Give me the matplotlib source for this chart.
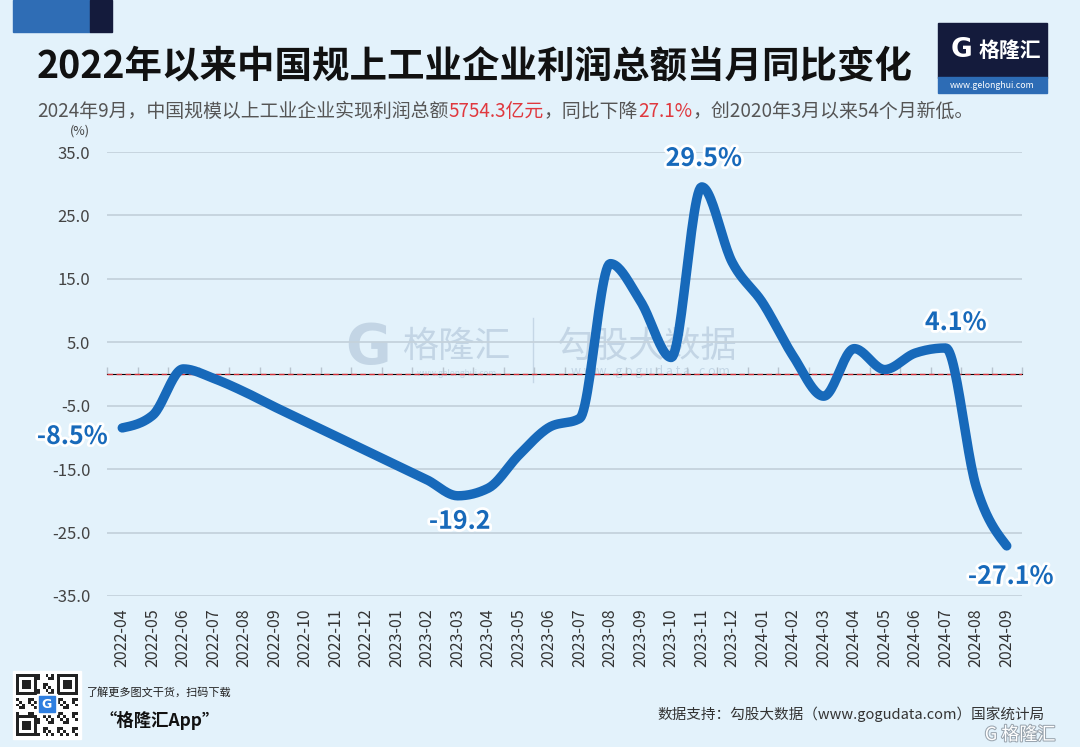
#-*-coding:utf-8-*-
import matplotlib
matplotlib.use('Agg')
import matplotlib.pyplot as plt
import matplotlib.patheffects as pe
from matplotlib.patches import Rectangle
import numpy as np

plt.rcParams['font.family'] = ['Noto Sans CJK SC', 'DejaVu Sans']
plt.rcParams['axes.unicode_minus'] = False

# 数据
months = ['2022-04', '2022-05', '2022-06', '2022-07', '2022-08', '2022-09',
          '2022-10', '2022-11', '2022-12', '2023-01', '2023-02', '2023-03',
          '2023-04', '2023-05', '2023-06', '2023-07', '2023-08', '2023-09',
          '2023-10', '2023-11', '2023-12', '2024-01', '2024-02', '2024-03',
          '2024-04', '2024-05', '2024-06', '2024-07', '2024-08', '2024-09']
profit_yoy = [-8.5, -6.5, 0.8, -0.7, -2.8, -5.2,
              -7.5, -9.8, -12.1, -14.4, -16.7, -19.2,
              -18.0, -12.8, -8.4, -7.0, 17.4, 11.4,
              2.6, 29.5, 17.6, 11.2, 2.8, -3.5,
              4.0, 0.7, 3.3, 4.1, -17.8, -27.1]
yticks = [35, 25, 15, 5, -5, -15, -25, -35]
# (月份序号, 标签)
callouts = [(0, '-8.5%'), (11, '-19.2'), (19, '29.5%'), (27, '4.1%'), (29, '-27.1%')]

BG = '#E3F2FB'
BLUE = '#1769BA'
NAVY = '#141B3C'
RED = '#E0383E'
W, H = 1080, 747


def monotone(y, k=24):
    """单调三次插值 (类似 d3 curveMonotoneX), 只用于把折线画平滑"""
    y = np.asarray(y, float)
    n = len(y)
    s = np.diff(y)
    m = np.zeros(n)
    for i in range(1, n - 1):
        s0, s1 = s[i - 1], s[i]
        p = (s0 + s1) / 2
        m[i] = (np.sign(s0) + np.sign(s1)) * min(abs(s0), abs(s1), 0.5 * abs(p))
    m[0] = (3 * s[0] - m[1]) / 2
    m[-1] = (3 * s[-1] - m[-2]) / 2
    xs, ys = [], []
    t = np.linspace(0, 1, k, endpoint=False)
    h00 = 2 * t**3 - 3 * t**2 + 1
    h10 = t**3 - 2 * t**2 + t
    h01 = -2 * t**3 + 3 * t**2
    h11 = t**3 - t**2
    for i in range(n - 1):
        xs.append(i + t)
        ys.append(h00 * y[i] + h10 * m[i] + h01 * y[i + 1] + h11 * m[i + 1])
    xs.append([n - 1])
    ys.append([y[-1]])
    return np.concatenate(xs), np.concatenate(ys)


fig = plt.figure(figsize=(W / 100, H / 100), dpi=100, facecolor=BG)

# 背景装饰层 (像素坐标)
bg = fig.add_axes([0, 0, 1, 1], zorder=0)
bg.set_xlim(0, W)
bg.set_ylim(H, 0)
bg.axis('off')
bg.add_patch(Rectangle((13, 0), 77, 32, color='#2F6DB5'))
bg.add_patch(Rectangle((90, 0), 22, 32, color=NAVY))

# 右上角 logo
bg.add_patch(Rectangle((938, 23), 109, 55, color=NAVY))
bg.add_patch(Rectangle((938, 77), 109, 16, color='#2D6CB5'))
bg.text(962, 50, 'G', color='white', fontsize=19, fontweight='bold',
        ha='center', va='center', family='DejaVu Sans')
bg.text(1010, 50, '格隆汇', color='white', fontsize=15, fontweight='bold',
        ha='center', va='center')
bg.text(992, 85.5, 'www.gelonghui.com', color='white', fontsize=6.3,
        ha='center', va='center')

# 水印
wm = '#A9BED3'
bg.text(368, 348, 'G', color=wm, fontsize=40, fontweight='bold', alpha=0.55,
        ha='center', va='center', family='DejaVu Sans')
bg.text(457, 347, '格隆汇', color=wm, fontsize=26, alpha=0.55, ha='center', va='center')
bg.text(457, 374, 'www.gelonghui.com', color=wm, fontsize=6, alpha=0.55,
        ha='center', va='center')
bg.plot([533, 533], [318, 382], color=wm, lw=1, alpha=0.5)
bg.text(647, 347, '勾股大数据', color=wm, fontsize=26, alpha=0.55, ha='center', va='center')
bg.text(650, 372, 'w w w . g o g u d a t a . c o m', color=wm, fontsize=9, alpha=0.55,
        ha='center', va='center')

# 标题
bg.text(37, 66, '2022年以来中国规上工业企业利润总额当月同比变化', fontsize=27,
        fontweight='bold', color='#111111', ha='left', va='center')

# 副标题 (分段着色)
parts = [('2024年9月，中国规模以上工业企业实现利润总额', '#555555'),
         ('5754.3亿元', RED), ('，同比下降', '#555555'), ('27.1%', RED),
         ('，创2020年3月以来54个月新低。', '#555555')]
renderer = fig.canvas.get_renderer()
x0 = 37
for s, c in parts:
    t = bg.text(x0, 117, s, fontsize=13.6, color=c, ha='left', va='baseline')
    bb = t.get_window_extent(renderer)
    x0 += bb.width

bg.text(80, 131, '(%)', fontsize=9, color='#444444', ha='center', va='center')

# 底部二维码 (装饰)
bg.add_patch(Rectangle((13, 671), 68, 68, color='white'))
qn = 21
cell = 62 / qn
for i in range(qn):
    for j in range(qn):
        finder = (i < 7 and j < 7) or (i < 7 and j >= qn - 7) or (i >= qn - 7 and j < 7)
        if finder:
            a = i if i < 7 else i - (qn - 7)
            b = j if j < 7 else j - (qn - 7)
            on = a in (0, 6) or b in (0, 6) or (2 <= a <= 4 and 2 <= b <= 4)
        else:
            on = ((i * 7 + j * 13 + i * j) % 5) < 2
        if on:
            bg.add_patch(Rectangle((16 + j * cell, 674 + i * cell), cell, cell,
                                   color='#222222', lw=0))
bg.add_patch(Rectangle((37, 694), 20, 20, color='white'))
bg.add_patch(Rectangle((39, 696), 16, 16, color='#2F7FE0'))
bg.text(47, 704, 'G', color='white', fontsize=9, fontweight='bold',
        ha='center', va='center', family='DejaVu Sans')
bg.text(87, 692, '了解更多图文干货，扫码下载', fontsize=8, color='#222222',
        ha='left', va='center')
bg.text(100, 720, '“格隆汇App”', fontsize=12.5, fontweight='bold', color='#111111',
        ha='left', va='center')
bg.text(1045, 714, '数据支持：勾股大数据（www.gogudata.com）国家统计局', fontsize=10.5,
        color='#333333', ha='right', va='center')
bg.text(1020, 735, 'G 格隆汇', fontsize=13, color='#FFFFFF', ha='center', va='center',
        path_effects=[pe.withStroke(linewidth=1.5, foreground='#9AA5AF')])

# 主图
ax = fig.add_axes([107 / W, 1 - 596 / H, 915 / W, (596 - 152) / H], zorder=2)
ax.set_facecolor('none')
x = np.arange(len(months))
sx, sy = monotone(profit_yoy)
ax.plot(sx, sy, color=BLUE, lw=6.8, solid_capstyle='round', zorder=4)
ax.axhline(0, color='#D8323A', lw=1, ls=(0, (4, 2.5)), zorder=3)

ax.set_xlim(-0.5, len(months) - 0.5)
ax.set_ylim(-35, 35)
ax.set_yticks(yticks)
ax.set_yticklabels([f'{v:.1f}' for v in yticks], fontsize=12, color='#444444')
ax.set_xticks(x)
ax.set_xticklabels(months, rotation=90, fontsize=11.5, color='#333333')
ax.tick_params(axis='both', length=0)
ax.tick_params(axis='x', pad=9)
ax.tick_params(axis='y', pad=12)
ax.grid(axis='y', color='#C5D2DC', lw=1.3)
ax.set_axisbelow(True)
for sp in ax.spines.values():
    sp.set_visible(False)

# 零轴上的小刻度
sec = ax.secondary_xaxis(0.5)
sec.set_xticks(np.arange(len(months) + 1) - 0.5)
sec.set_xticklabels([])
sec.tick_params(length=5, color='#B8C4CE', width=1)
sec.spines['bottom'].set_visible(False)

offsets = {0: (-50, -9), 11: (2, -26), 19: (2, 28), 27: (10, 25), 29: (4, -31)}
for i, lab in callouts:
    ax.annotate(lab, (x[i], profit_yoy[i]), xytext=offsets[i], textcoords='offset pixels',
                ha='center', va='center', fontsize=18, fontweight='bold', color=BLUE,
                zorder=6, annotation_clip=False,
                path_effects=[pe.withStroke(linewidth=4, foreground='white')])

fig.savefig('out.png', dpi=100, facecolor=BG)
